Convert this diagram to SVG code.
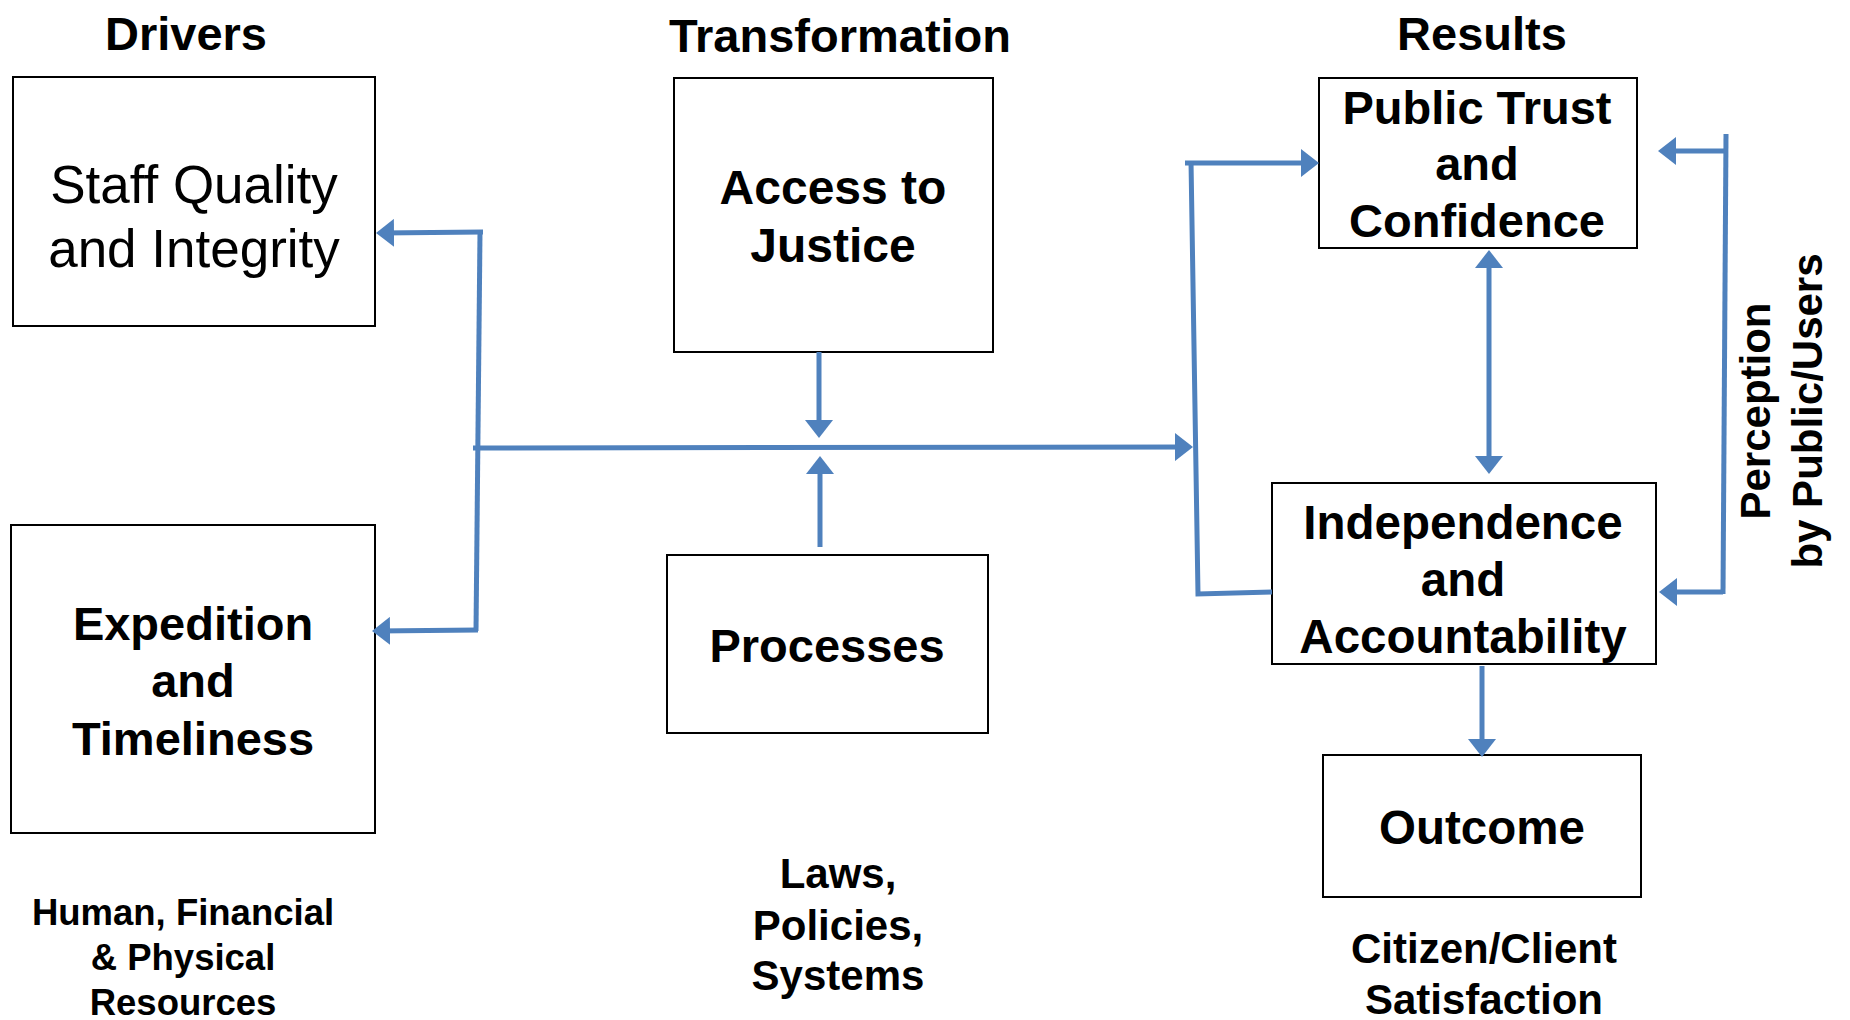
<svg xmlns="http://www.w3.org/2000/svg" width="1850" height="1020" viewBox="0 0 1850 1020">
<defs>
<style>
.box{fill:#fff;stroke:#000;stroke-width:2}
.t{font-family:"Liberation Sans",Arial,Helvetica,sans-serif;font-weight:bold;fill:#000;text-anchor:middle}
.r{font-weight:normal}
.c{fill:none;stroke:#4F81BD;stroke-width:5;stroke-linecap:butt;stroke-linejoin:miter}
</style>
<marker id="ah" markerUnits="userSpaceOnUse" markerWidth="18" markerHeight="28" viewBox="0 0 18 28" refX="13" refY="14" orient="auto">
<path d="M0,0 L18,14 L0,28 z" fill="#4F81BD"/>
</marker>
<marker id="as" markerUnits="userSpaceOnUse" markerWidth="18" markerHeight="28" viewBox="0 0 18 28" refX="5" refY="14" orient="auto">
<path d="M18,0 L0,14 L18,28 z" fill="#4F81BD"/>
</marker>
</defs>
<rect width="1850" height="1020" fill="#fff"/>

<g id="titles">
<text class="t" x="186" y="50" font-size="47">Drivers</text>
<text class="t" x="840" y="52" font-size="47">Transformation</text>
<text class="t" x="1482" y="50" font-size="47">Results</text>
</g>

<g id="staff">
<rect class="box" x="13" y="77" width="362" height="249"/>
<text class="t r" x="194" font-size="53"><tspan x="194" y="203">Staff Quality</tspan><tspan x="194" y="267">and Integrity</tspan></text>
</g>

<g id="expedition">
<rect class="box" x="11" y="525" width="364" height="308"/>
<text class="t" font-size="47"><tspan x="193" y="640">Expedition</tspan><tspan x="193" y="697">and</tspan><tspan x="193" y="755">Timeliness</tspan></text>
</g>

<g id="resources">
<text class="t" font-size="36.5"><tspan x="183" y="925">Human, Financial</tspan><tspan x="183" y="970">&amp; Physical</tspan><tspan x="183" y="1015">Resources</tspan></text>
</g>

<g id="access">
<rect class="box" x="674" y="78" width="319" height="274"/>
<text class="t" font-size="48"><tspan x="833" y="204">Access to</tspan><tspan x="833" y="262">Justice</tspan></text>
</g>

<g id="processes">
<rect class="box" x="667" y="555" width="321" height="178"/>
<text class="t" x="827" y="662" font-size="47">Processes</text>
</g>

<g id="laws">
<text class="t" font-size="42"><tspan x="838" y="888">Laws,</tspan><tspan x="838" y="940">Policies,</tspan><tspan x="838" y="990">Systems</tspan></text>
</g>

<g id="trust">
<rect class="box" x="1319" y="78" width="318" height="170"/>
<text class="t" font-size="47"><tspan x="1477" y="124">Public Trust</tspan><tspan x="1477" y="180">and</tspan><tspan x="1477" y="237">Confidence</tspan></text>
</g>

<g id="independence">
<rect class="box" x="1272" y="483" width="384" height="181"/>
<text class="t" font-size="47.5"><tspan x="1463" y="539">Independence</tspan><tspan x="1463" y="596">and</tspan><tspan x="1463" y="653">Accountability</tspan></text>
</g>

<g id="outcome">
<rect class="box" x="1323" y="755" width="318" height="142"/>
<text class="t" x="1482" y="844" font-size="47.5">Outcome</text>
</g>

<g id="satisfaction">
<text class="t" font-size="42"><tspan x="1484" y="963">Citizen/Client</tspan><tspan x="1484" y="1014">Satisfaction</tspan></text>
</g>

<g id="perception">
<text class="t" font-size="42" transform="translate(1770,411) rotate(-90)">Perception</text>
<text class="t" font-size="42" transform="translate(1822,411) rotate(-90)">by Public/Users</text>
</g>

<g id="connectors">
<path class="c" d="M480,232 L476,631"/>
<path class="c" d="M483,232 L381,233" marker-end="url(#ah)"/>
<path class="c" d="M478,630 L377,631" marker-end="url(#ah)"/>
<path class="c" d="M473,448 L1188,447" marker-end="url(#ah)"/>
<path class="c" d="M819,352 L819,433" marker-end="url(#ah)"/>
<path class="c" d="M820,547 L820,461" marker-end="url(#ah)"/>
<path class="c" d="M1185,163 L1314,163" marker-end="url(#ah)"/>
<path class="c" d="M1191,161 L1198,594 L1272,592"/>
<path class="c" d="M1489,255 L1489,469" marker-start="url(#as)" marker-end="url(#ah)"/>
<path class="c" d="M1726,134 L1723,594"/>
<path class="c" d="M1726,151 L1663,151" marker-end="url(#ah)"/>
<path class="c" d="M1723,592 L1664,592" marker-end="url(#ah)"/>
<path class="c" d="M1482,666 L1482,752" marker-end="url(#ah)"/>
</g>
</svg>
